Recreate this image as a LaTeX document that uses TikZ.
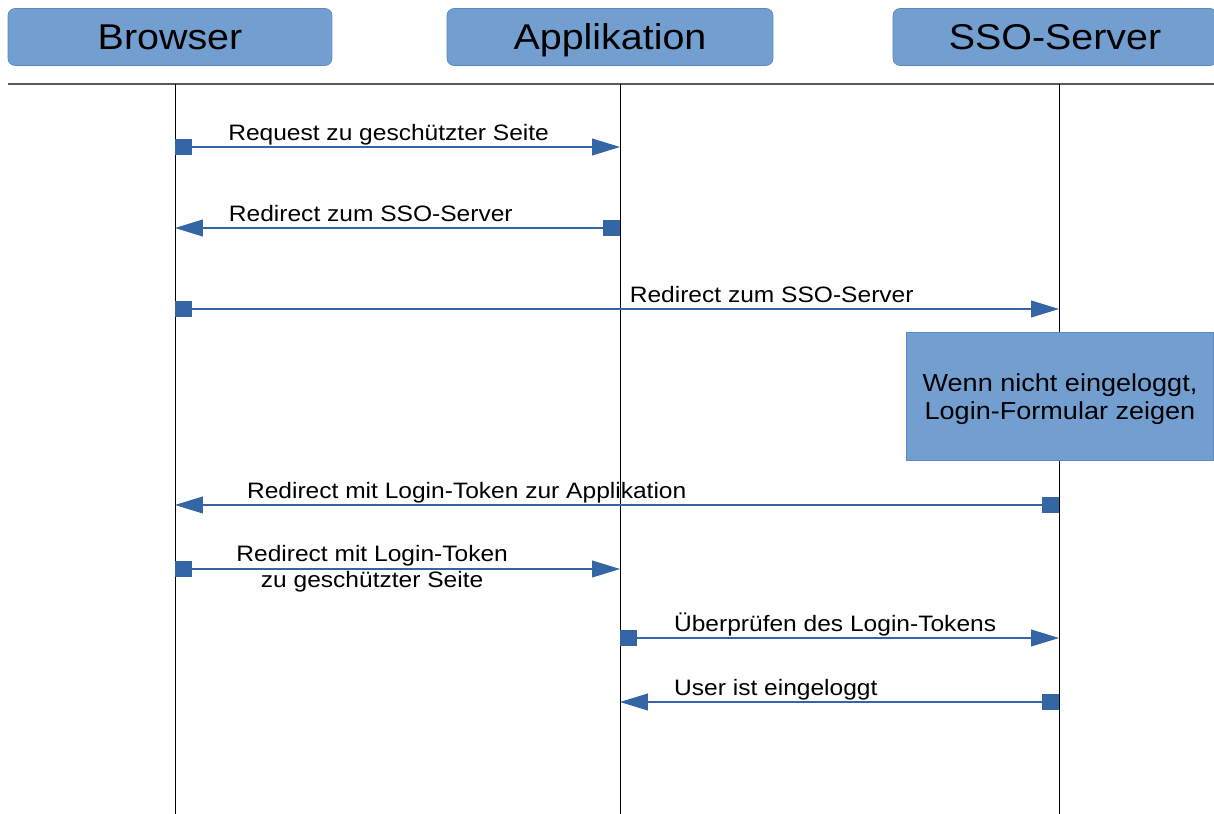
\documentclass[tikz,border=0pt]{standalone}
\usepackage{fontspec}
\setmainfont[FakeStretch=1.1]{Liberation Sans}
\usetikzlibrary{arrows.meta,positioning}
\definecolor{boxblue}{HTML}{729FCF}
\definecolor{boxline}{HTML}{5A88C2}
\definecolor{msgblue}{HTML}{3465A4}

\begin{document}
\begin{tikzpicture}[x=0.02cm,y=-0.02cm,
  head/.style={draw=boxline,fill=boxblue,rounded corners=4pt,minimum height=1.14cm,text height=14.7pt,text depth=0pt,font=\fontsize{20.4}{24}\selectfont},
  note/.style={draw=boxline,fill=boxblue,minimum width=6.14cm,minimum height=2.56cm,align=center,font=\fontsize{14}{16.2}\selectfont},
  life/.style={black,line width=0.5pt},
  msg/.style={-{Triangle[length=15.9pt,width=9.6pt]},msgblue,line width=0.6pt},
  src/.style={fill=msgblue,inner sep=0pt,minimum size=9.6pt},
  lbl/.style={black,anchor=base,yshift=3.6pt,inner sep=0pt,font=\fontsize{12.7}{14.6}\selectfont}]
\useasboundingbox (0,0) rectangle (1214,814);
\clip (0,0) rectangle (1214,814);
\fill[white] (0,0) rectangle (1214,814);

% Kopfzeile
\node[head,minimum width=6.48cm] (browser) at (170,37) {Browser};
\node[head,minimum width=6.52cm] (app) at (610,37) {Applikation};
\node[head,minimum width=6.48cm] (sso) at (1055,37) {SSO-Server};
\coordinate (hl) at (8,84);
\coordinate (hr) at (1214,84);
\draw[black!65,line width=0.6pt] (hl) -- (hr);

% Lebenslinien
\coordinate (B) at (175,84); \coordinate (Bend) at (175,814);
\coordinate (A) at (620,84); \coordinate (Aend) at (620,814);
\coordinate (S) at (1059,84); \coordinate (Send) at (1059,814);
\draw[life] (B) -- (Bend);
\draw[life] (A) -- (Aend);
\draw[life] (S) -- (Send);

% Nachrichten
\coordinate (b1) at (175,147); \coordinate (a1) at (620,147);
\draw[msg] (b1) -- node[lbl,pos=.48] {Request zu geschützter Seite} (a1);
\node[src,anchor=west] at (b1) {};

\coordinate (a2) at (620,228); \coordinate (b2) at (175,228);
\draw[msg] (a2) -- node[lbl,pos=.56] {Redirect zum SSO-Server} (b2);
\node[src,anchor=east] at (a2) {};

\coordinate (b3) at (175,309); \coordinate (s3) at (1059,309);
\draw[msg] (b3) -- node[lbl,pos=.675] {Redirect zum SSO-Server} (s3);
\node[src,anchor=west] at (b3) {};

\node[note] (login) at (1060,396) {\raisebox{-1.8pt}[\height][\depth]{\shortstack{Wenn nicht eingeloggt,\\Login-Formular zeigen}}};

\coordinate (s4) at (1059,505); \coordinate (b4) at (175,505);
\draw[msg] (s4) -- node[lbl,pos=.67] {Redirect mit Login-Token zur Applikation} (b4);
\node[src,anchor=east] at (s4) {};

\coordinate (b5) at (175,569); \coordinate (a5) at (620,569);
\draw[msg] (b5) -- node[lbl,anchor=center,yshift=-3.5pt,pos=.443,align=center] {Redirect mit Login-Token\\zu geschützter Seite} (a5);
\node[src,anchor=west] at (b5) {};

\coordinate (a6) at (620,638); \coordinate (s6) at (1059,638);
\draw[msg] (a6) -- node[lbl,pos=.49] {Überprüfen des Login-Tokens} (s6);
\node[src,anchor=west] at (a6) {};

\coordinate (s7) at (1059,702); \coordinate (a7) at (620,702);
\draw[msg] (s7) -- node[lbl,pos=.645] {User ist eingeloggt} (a7);
\node[src,anchor=east] at (s7) {};
\end{tikzpicture}
\end{document}
